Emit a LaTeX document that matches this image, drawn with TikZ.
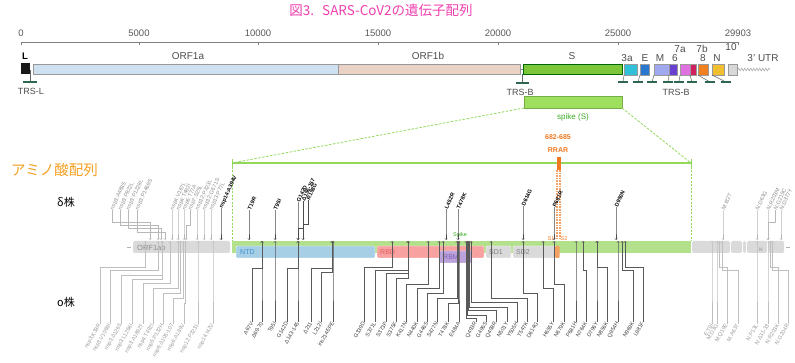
\documentclass[tikz,border=0pt]{standalone}
\usepackage{fontspec}
\setmainfont{Liberation Sans}
\newfontfamily\jp{Noto Sans CJK JP}
\usetikzlibrary{arrows.meta,decorations.pathmorphing}
\definecolor{titlepink}{HTML}{EE3FAE}
\definecolor{aaorange}{HTML}{F4A020}
\definecolor{rrorange}{HTML}{F07820}
\definecolor{spgreen}{HTML}{93D85A}
\definecolor{spboxc}{HTML}{9EE05E}
\definecolor{spgtext}{HTML}{3AAA20}
\definecolor{barg}{HTML}{B3E08A}
\definecolor{trs}{HTML}{2E6650}
\definecolor{orfa}{HTML}{CFE0F0}
\definecolor{orfb}{HTML}{EAD3C6}
\definecolor{sgene}{HTML}{7CC63A}
\definecolor{ntdc}{HTML}{A6CFE6}
\definecolor{ntdt}{HTML}{3A8FD0}
\definecolor{rbdc}{HTML}{F7A1A1}
\definecolor{rbdt}{HTML}{E06060}
\definecolor{rbmc}{HTML}{BBA2DC}
\definecolor{rbmt}{HTML}{8060B0}
\definecolor{sdc}{HTML}{DADADA}
\begin{document}
\begin{tikzpicture}[x=1pt,y=-1pt,
  scl/.style={font=\fontsize{9.5}{10}\selectfont, text=black!65, inner sep=0},
  glab/.style={font=\fontsize{10}{10}\selectfont, text=black!70, inner sep=0},
  gbox/.style={draw=black!40, line width=0.5pt},
  trsbar/.style={draw=trs, line width=1.8pt},
  trsstem/.style={draw=black!60, line width=0.5pt},
  dlab/.style={font=\fontsize{5.5}{6}\selectfont\bfseries, rotate=65, anchor=west, inner sep=0.3pt, text=black},
  dglab/.style={font=\fontsize{5.5}{6}\selectfont, rotate=65, anchor=west, inner sep=0.3pt, text=black!45},
  olab/.style={font=\fontsize{5.5}{6}\selectfont, rotate=60, anchor=east, inner sep=0.3pt, text=black!75},
  oglab/.style={font=\fontsize{5.5}{6}\selectfont, rotate=60, anchor=east, inner sep=0.3pt, text=black!40},
  dline/.style={draw=black!70, line width=0.5pt, -{Straight Barb[length=1.3pt,width=2.6pt]}},
  dgline/.style={draw=black!28, line width=0.5pt, -{Straight Barb[length=1.3pt,width=2.6pt]}},
  oline/.style={draw=black!65, line width=0.5pt, {Straight Barb[length=1.3pt,width=2.6pt]}-},
  ogline/.style={draw=black!25, line width=0.5pt, {Straight Barb[length=1.3pt,width=2.6pt]}-},
  dom/.style={rounded corners=1.2pt, draw=white, line width=0.4pt},
  domlab/.style={font=\fontsize{7}{7}\selectfont, anchor=west, inner sep=0}
]
\useasboundingbox (0,0) rectangle (795,363);

% ---------- title ----------
\node[font=\jp\fontsize{13.5}{13.5}\selectfont, text=titlepink, inner sep=0] (title) at (381,10) {図3.\hspace{8pt}SARS-CoV2の遺伝子配列};

% ---------- scale ----------
\draw[draw=black!50, line width=0.9pt] (21,42) -- (738,42);
\foreach \xx/\lab in {21/0,139/5000,258/10000,378/15000,498/20000,618/25000,738/29903} {
  \draw[draw=black!50, line width=0.8pt] (\xx,42) -- (\xx,45.5);
  \node[scl] (sc\lab) at (\xx,33) {\lab};
}

% ---------- genome ----------
\fill[black!90] (21,63) rectangle (30,74);
\node[glab, font=\fontsize{9.5}{10}\selectfont\bfseries, text=black] (Llab) at (25,56) {L};
\draw[gbox, fill=orfa] (33,64) rectangle (338,74);
\node[glab] (orf1a) at (188,56) {ORF1a};
\draw[gbox, fill=orfb] (338,64) rectangle (520,74);
\node[glab] (orf1b) at (428,56) {ORF1b};
\draw[draw=black!45, line width=0.5pt] (520,69) -- (523,69);
\draw[draw=green!40!black, line width=0.5pt, fill=sgene] (523,64) rectangle (622,74);
\node[glab] (slab) at (572,56) {S};
\foreach \a/\b/\c in {624/637/30C0D8,640/649/2878D0,654/669/A0A8F0,669/677/6A40D0,680/690/E070E0,690/696/D02060,698/708/F08020,712/724/F0C030,728/737/D8D8D8} {
  \definecolor{gtmp}{HTML}{\c}
  \draw[gbox, fill=gtmp] (\a,64) rectangle (\b,75);
}
\draw[draw=black!35, line width=0.5pt, decorate, decoration={zigzag, amplitude=1.4pt, segment length=3pt}] (738,69.5) -- (770,69.5);
\foreach \xx/\yy/\lab in {627/58/3a,645/58/E,660/58/M,675/58/6,680/49/7a,702/49/7b,703/58/8,717/58/N,731/47/10,763/58/3' UTR} {
  \node[glab] (g\xx) at (\xx,\yy) {\lab};
}
% TRS
\draw[trsstem] (30,70) -- (30,82);
\draw[trsbar] (23,82) -- (37,82);
\node[glab, font=\fontsize{9}{9}\selectfont] (trsl) at (31,91) {TRS-L};
\draw[trsstem] (522,74) -- (522,83);
\draw[trsbar] (516,83) -- (529,83);
\node[glab, font=\fontsize{9}{9}\selectfont] (trsb1) at (520,92) {TRS-B};
\foreach \a/\c in {624/623,640/638,654/652,669/668,680/679,690/692,698/710,712/726} {
  \draw[trsstem] (\a,75) -- (\c,82);
  \draw[trsbar] (\c-5,82) -- (\c+5,82);
}
\node[glab, font=\fontsize{9}{9}\selectfont] (trsb2) at (676,92) {TRS-B};

% ---------- spike box and zoom lines ----------
\draw[draw=spgreen!80!black, line width=0.5pt, fill=spboxc] (524,96) rectangle (622,108);
\node[font=\fontsize{8}{8}\selectfont, text=spgtext, inner sep=0] (spk) at (573,117) {spike (S)};
\coordinate (zl) at (232,163);
\coordinate (zr) at (691,163);
\draw[draw=spgreen, line width=0.8pt, dash pattern=on 2.5pt off 1.5pt] (524,108) -- (zl);
\draw[draw=spgreen, line width=0.8pt, dash pattern=on 2.5pt off 1.5pt] (622,108) -- (zr);
\draw[draw=spgreen, line width=1.2pt] (zl) -- (zr);
\draw[draw=spgreen, line width=0.8pt] (232,159) -- (232,167) (691,159) -- (691,167);
\draw[draw=spgreen, line width=0.7pt, dash pattern=on 2pt off 1.5pt] (232,167) -- (232,241);
\draw[draw=spgreen, line width=0.7pt, dash pattern=on 2pt off 1.5pt] (691,167) -- (691,241);

% ---------- headings ----------
\node[font=\jp\fontsize{14.5}{14.5}\selectfont, text=aaorange, inner sep=0, anchor=west] (aa) at (11,170) {アミノ酸配列};
\node[font=\jp\fontsize{11}{11}\selectfont, text=black, inner sep=0] (delta) at (66,202) {δ株};
\node[font=\jp\fontsize{11}{11}\selectfont, text=black, inner sep=0] (omi) at (66,302) {ο株};

% RRAR
\node[font=\fontsize{7}{7}\selectfont\bfseries, text=rrorange, inner sep=0] (rr1) at (558,137) {682-685};
\node[font=\fontsize{7}{7}\selectfont\bfseries, text=rrorange, inner sep=0] (rr2) at (558,150) {RRAR};
\fill[rrorange] (556.5,157) rectangle (560.5,170);
\draw[draw=rrorange!70, line width=1.6pt, dash pattern=on 1.6pt off 1pt] (557.2,170) -- (557.2,240);
\draw[draw=rrorange!70, line width=1.6pt, dash pattern=on 1.6pt off 1pt] (559.8,170) -- (559.8,240);

% ---------- protein bar ----------
\draw[draw=black!30, line width=0.5pt] (127,247) -- (131,247);
\fill[sdc, rounded corners=1.5pt] (133,241) rectangle (230,253);
\node[font=\fontsize{7.5}{7.5}\selectfont, text=black!45, inner sep=0, anchor=west] (orfab) at (137,248) {ORF1ab};
\fill[barg] (232,241) rectangle (691,253);
\fill[dom, fill=ntdc] (236,246) rectangle (375,258);
\node[domlab, text=ntdt] (ntd) at (240,252) {NTD};
\fill[dom, fill=rbdc] (377,246) rectangle (484,258);
\node[domlab, text=rbdt] (rbd) at (380,252) {RBD};
\fill[dom, fill=rbmc] (439,251) rectangle (472,263);
\node[domlab, text=rbmt] (rbm) at (443,257) {RBM};
\fill[dom, fill=sdc] (486,246) rectangle (511,258);
\node[domlab, text=black!50] (sd1) at (489,252) {SD1};
\fill[dom, fill=sdc] (513,246) rectangle (556,258);
\node[domlab, text=black!50] (sd2) at (516,252) {SD2};
\fill[rrorange!70, rounded corners=1pt] (555,246) rectangle (559.5,258);
\node[font=\fontsize{5.5}{5.5}\selectfont, text=spgtext, inner sep=0] (spkl) at (460,235.5) {Spike};
\node[font=\fontsize{5.5}{5.5}\selectfont, text=rrorange, inner sep=0] (s1) at (551,239) {S1};
\node[font=\fontsize{5.5}{5.5}\selectfont, text=rrorange, inner sep=0] (s2) at (564,239) {S2};
\foreach \a/\b in {692/730,731/742,743/746,747/767,768/784} {
  \fill[sdc, rounded corners=1.5pt] (\a,241) rectangle (\b,253);
}
\draw[draw=black!30, line width=0.5pt] (786,247) -- (790,247);
\node[font=\fontsize{5}{5}\selectfont, text=black!45, inner sep=0] (nsmall) at (761,250) {N};

% ---------- delta mutations (above) ----------
\foreach \xl/\ye/\xb/\lab [count=\i] in {112/222/150/nsp3:A488S,120/225/158/nsp3:P822L,128/228/161/nsp3:P1228L,137/232/165/nsp3:P1469S,172/230/172/nsp4:V167L,178/230/178/nsp4:T492I,184/230/184/nsp6:T77A,190/225/186/nsp7:S25L,197/230/197/nsp12:P323L,204/230/204/nsp12:G671S,211/230/211/nsp13:P77L,723/230/723/M:I82T,757/230/757/N:D63G,768/230/768/N:R203M,775/222/768/N:G215C,781/230/781/N:D377Y} {
  \node[dglab] (dg\i) at (\xl,210) {\lab};
  \coordinate (dgb\i) at (\xb,240);
  \draw[dgline] (dg\i.west) -- (\xl,\ye) -- (\xb,\ye) -- (dgb\i);
}
\foreach \xl/\yl/\ye/\xb/\lab [count=\i] in {221/208/230/221/nsp14:A394V,249/210/230/249/T19R,275/210/230/275/T95I,298/202/230/298/G142D,303/201/228/298/Δ156-157,308/200/224/303/R158G,446/209/230/446/L452R,458/209/230/458/T478K,523/206/230/523/D614G,554/207/230/554/P681R,616/207/230/616/D950N} {
  \node[dlab] (dd\i) at (\xl,\yl) {\lab};
  \coordinate (ddb\i) at (\xb,240);
  \draw[dline] (dd\i.west) -- (\xl,\ye) -- (\xb,\ye) -- (ddb\i);
}

% ---------- omicron mutations (below) ----------
\foreach \xl/\ye/\xb/\lab [count=\i] in {100/267/145/nsp3:K38R,110/270/158/nsp3:V1069I,121/275/162/nsp3:Δ1265,132/279/162/nsp3:L1266I,143/283/170/nsp3:A1892T,153/288/178/nsp4:T492I,163/293/180/nsp5:P132H,173/298/183/nsp6:Δ105-107,184/303/185/nsp6:A189V,198/280/198/nsp12:P323L,213/280/213/nsp14:I42V,712/280/712/E:T9I,717/280/717/M:D3G,727/267/719/M:Q19E,738/270/722/M:A63T,757/280/757/N:P13L,768/280/768/N:Δ31-33,778/267/770/N:R203K,788/270/772/N:G204R} {
  \coordinate (ogb\i) at (\xb,241);
  \node[oglab] (og\i) at (\xl,324) {\lab};
  \draw[ogline] (ogb\i) -- (\xb,\ye) -- (\xl,\ye) -- (og\i.east);
}
\foreach \xl/\ye/\xb/\lab [count=\i] in {252/268/262/A67V,262/280/262/Δ69-70,275/280/275/T95I,287/268/298/G142D,298/280/298/Δ143-145,311/268/332/Δ211,321/272/332/L212I,333/280/333/ins214EPE,364/267/392/G339D,375/270/408/S371L,386/273/408/S373P,396/278/408/S375F,406/284/428/K417N,417/288/439/N440K,427/293/443/G446S,437/298/457/S477N,448/303/458/T478K,459/280/459/E484A,476/318/466/Q493R,486/315/467/G496S,496/310/468/Q498R,507/307/469/N501Y,517/302/471/Y505H,527/298/491/T547K,537/293/523/D614G,553/288/543/H655Y,564/284/554/N679K,576/280/576/P681H,586/270/583/N764K,597/280/597/D796Y,607/267/597/N856K,618/280/618/Q954H,633/270/622/N969K,643/267/625/L981F} {
  \coordinate (ob\i) at (\xb,241);
  \node[olab] (om\i) at (\xl,322) {\lab};
  \draw[oline] (ob\i) -- (\xb,\ye) -- (\xl,\ye) -- (om\i.east);
}
\end{tikzpicture}
\end{document}
